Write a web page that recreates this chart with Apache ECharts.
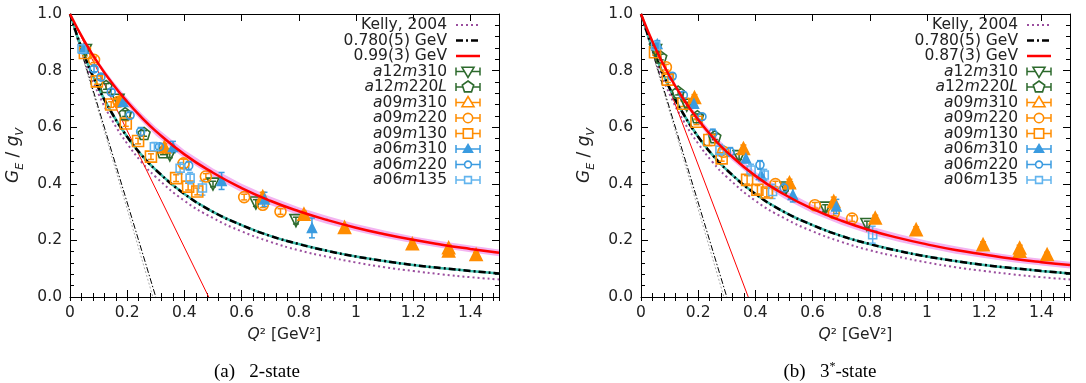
<!DOCTYPE html>
<html><head><meta charset="utf-8">
<script src="https://cdn.jsdelivr.net/npm/echarts@6/dist/echarts.min.js"></script>
<style>html,body{margin:0;padding:0;background:#fff}#c{width:1086px;height:383px}</style>
</head><body><div id="c"></div>
<script>
// ---------------- DATA ----------------
const curveQ2 = [0,0.05,0.1,0.15,0.2,0.25,0.3,0.4,0.5,0.6,0.7,0.8,0.9,1.0,1.1,1.2,1.3,1.4,1.5];
const kelly2004 = [1,0.840,0.717,0.620,0.542,0.477,0.424,0.340,0.279,0.232,0.195,0.165,0.142,0.122,0.105,0.092,0.080,0.070,0.062];
const dipole780 = [1,0.854,0.738,0.644,0.566,0.502,0.449,0.364,0.301,0.254,0.216,0.187,0.163,0.143,0.127,0.113,0.102,0.092,0.083];
const dipole990 = [1,0.905,0.823,0.752,0.690,0.635,0.586,0.504,0.439,0.385,0.340,0.303,0.272,0.245,0.222,0.202,0.185,0.170,0.156];
const dipole870 = [1,0.880,0.780,0.697,0.626,0.565,0.513,0.428,0.363,0.311,0.270,0.236,0.209,0.186,0.166,0.150,0.135,0.123,0.113];
const band990Half = [0,0.004,0.008,0.011,0.013,0.014,0.015,0.015,0.015,0.015,0.015,0.014,0.014,0.013,0.013,0.012,0.012,0.012,0.012];
const band870Half = [0,0.004,0.008,0.011,0.013,0.014,0.015,0.015,0.015,0.015,0.015,0.014,0.014,0.013,0.013,0.012,0.012,0.012,0.012];
// Q2 where the small-Q2 slope lines reach zero
const slopeZero780 = 0.300;
const slopeZero990 = 0.485;
const slopeZero870 = 0.375;
const slopeZeroKelly = 0.290;

const curveLabels = ['Kelly, 2004', '0.780(5) GeV'];
const fitLabels = ['0.99(3) GeV', '0.87(3) GeV'];
const xTickLabels = ['0','0.2','0.4','0.6','0.8','1','1.2','1.4'];
const yTickLabels = ['0.0','0.2','0.4','0.6','0.8','1.0'];
const ensembleNames = ['a12m310','a12m220L','a09m310','a09m220','a09m130','a06m310','a06m220','a06m135'];

// [Q2, G_E/g_V, error]  --- panel (a) 2-state
const A_a12m310 = [[0.054,0.871,0.01],[0.168,0.695,0.01],[0.349,0.502,0.01],[0.50,0.399,0.01],[0.65,0.332,0.012],[0.79,0.270,0.012]];
const A_a12m220L = [[0.126,0.744,0.01],[0.193,0.648,0.01],[0.259,0.578,0.01],[0.325,0.513,0.01]];
const A_a09m310 = [[0.175,0.695,0.01],[0.33,0.530,0.012],[0.674,0.355,0.015],[0.818,0.293,0.01],[0.960,0.246,0.01],[1.197,0.188,0.01],[1.324,0.174,0.01],[1.324,0.163,0.01],[1.42,0.150,0.008]];
const A_a09m220 = [[0.084,0.838,0.01],[0.17,0.690,0.01],[0.397,0.472,0.015],[0.475,0.426,0.01],[0.609,0.353,0.01],[0.674,0.326,0.01],[0.736,0.302,0.01]];
const A_a09m130 = [[0.052,0.862,0.01],[0.094,0.762,0.01],[0.144,0.680,0.01],[0.195,0.613,0.01],[0.238,0.551,0.01],[0.283,0.496,0.01],[0.371,0.420,0.012],[0.413,0.390,0.012],[0.445,0.373,0.012]];
const A_a06m310 = [[0.048,0.877,0.01],[0.186,0.689,0.01],[0.36,0.530,0.02],[0.53,0.410,0.03],[0.68,0.345,0.025],[0.846,0.244,0.035]];
const A_a06m220 = [[0.084,0.806,0.01],[0.108,0.777,0.01],[0.144,0.724,0.01],[0.21,0.642,0.01],[0.247,0.584,0.015],[0.313,0.531,0.01],[0.415,0.464,0.015]];
const A_a06m135 = [[0.042,0.877,0.01],[0.295,0.531,0.015],[0.385,0.455,0.02],[0.42,0.420,0.02],[0.463,0.385,0.025]];
// panel (b) 3*-state
const B_a12m310 = [[0.051,0.871,0.01],[0.16,0.678,0.01],[0.343,0.496,0.01],[0.507,0.385,0.01],[0.644,0.314,0.012],[0.79,0.256,0.012]];
const B_a12m220L = [[0.069,0.848,0.01],[0.13,0.724,0.01],[0.197,0.637,0.01],[0.258,0.566,0.01]];
const B_a09m310 = [[0.187,0.705,0.01],[0.358,0.525,0.012],[0.519,0.404,0.012],[0.674,0.338,0.015],[0.819,0.279,0.01],[0.962,0.238,0.01],[1.196,0.185,0.01],[1.324,0.173,0.01],[1.324,0.162,0.01],[1.42,0.150,0.008]];
const B_a09m220 = [[0.087,0.812,0.01],[0.288,0.513,0.01],[0.470,0.399,0.01],[0.608,0.324,0.01],[0.674,0.297,0.01],[0.738,0.277,0.01]];
const B_a09m130 = [[0.049,0.865,0.01],[0.094,0.768,0.01],[0.148,0.683,0.01],[0.194,0.619,0.01],[0.239,0.555,0.02],[0.282,0.490,0.01],[0.371,0.414,0.015],[0.407,0.379,0.015],[0.44,0.369,0.015]];
const B_a06m310 = [[0.057,0.894,0.012],[0.185,0.683,0.012],[0.367,0.490,0.015],[0.42,0.431,0.02],[0.531,0.361,0.025],[0.683,0.320,0.025]];
const B_a06m220 = [[0.109,0.780,0.01],[0.148,0.713,0.01],[0.213,0.637,0.01],[0.251,0.578,0.015],[0.312,0.513,0.015],[0.416,0.467,0.015],[0.50,0.385,0.015]];
const B_a06m135 = [[0.051,0.888,0.015],[0.276,0.519,0.02],[0.385,0.449,0.02],[0.431,0.431,0.02],[0.46,0.373,0.025],[0.81,0.220,0.03]];

// ---------------- STYLE ----------------
const FONT = '"DejaVu Sans", sans-serif';
const SERIF = '"Liberation Serif", "DejaVu Serif", serif';
const TXT = '#222';
const FS = 15.5;
const GREEN = '#2d6a2d', ORANGE = '#ff8c00', BLUE = '#3a9be0', LBLUE = '#62b4ee';
const PURPLE = '#9b4f9f', RED = '#ff0000', TEAL = '#3fbfae', PINK = '#f3b4f1';
const PENT = 'path://M0,-1L0.951,-0.309L0.588,0.809L-0.588,0.809L-0.951,-0.309Z';
const ensStyle = [
  {color: GREEN, symbol: 'triangle', rotate: 180, size: 12, fill: 'rgba(0,0,0,0)'},
  {color: GREEN, symbol: PENT, rotate: 0, size: 12, fill: 'rgba(0,0,0,0)'},
  {color: ORANGE, symbol: 'triangle', rotate: 0, size: 12, fill: ORANGE},
  {color: ORANGE, symbol: 'circle', rotate: 0, size: 11, fill: 'rgba(0,0,0,0)'},
  {color: ORANGE, symbol: 'rect', rotate: 0, size: 11, fill: 'rgba(0,0,0,0)'},
  {color: BLUE, symbol: 'triangle', rotate: 0, size: 9, fill: BLUE},
  {color: BLUE, symbol: 'circle', rotate: 0, size: 8, fill: 'rgba(0,0,0,0)'},
  {color: LBLUE, symbol: 'rect', rotate: 0, size: 8, fill: 'rgba(0,0,0,0)'}
];
const panelData = [
  [A_a12m310, A_a12m220L, A_a09m310, A_a09m220, A_a09m130, A_a06m310, A_a06m220, A_a06m135],
  [B_a12m310, B_a12m220L, B_a09m310, B_a09m220, B_a09m130, B_a06m310, B_a06m220, B_a06m135]
];
const panelFit = [dipole990, dipole870];
const panelBand = [band990Half, band870Half];
const panelSlope = [slopeZero990, slopeZero870];
const gridLeft = [70, 641];
const GTOP = 14, GW = 429, GH = 283;

const richTxt = s => s.replace(/([A-Za-z]+)|([0-9]+)/g, (m, a, d) => a ? '{i|' + a + '}' : '{n|' + d + '}');

const xAxis = [], yAxis = [], grid = [], series = [], graphic = [];
const xLab = v => { const s = String(+v.toFixed(2)); return xTickLabels.indexOf(s) >= 0 ? s : ''; };
const yLab = v => { const s = v.toFixed(1); return yTickLabels.indexOf(s) >= 0 ? s : ''; };

for (let p = 0; p < 2; p++) {
  grid.push({left: gridLeft[p], top: GTOP, width: GW, height: GH});
  const line = {show: true, onZero: false, lineStyle: {color: '#000', width: 1}};
  const base = {type: 'value', gridIndex: p, min: 0, max: 1.5, splitLine: {show: false}};
  xAxis.push(Object.assign({}, base, {position: 'bottom', interval: 0.2, axisLine: line,
    axisTick: {inside: true, length: 7, lineStyle: {color: '#000'}},
    axisLabel: {color: TXT, fontSize: FS, fontFamily: FONT, margin: 8, formatter: xLab, showMaxLabel: false},
    name: '{i|Q}{n|² [GeV²]}', nameLocation: 'middle', nameGap: 30,
    nameTextStyle: {rich: {i: {fontStyle: 'italic', fontSize: FS, fontFamily: FONT, color: TXT}, n: {fontSize: FS, fontFamily: FONT, color: TXT}}}}));
  xAxis.push(Object.assign({}, base, {position: 'bottom', interval: 0.04, axisLine: {show: false},
    axisTick: {inside: true, length: 4, lineStyle: {color: '#000'}}, axisLabel: {show: false}}));
  xAxis.push(Object.assign({}, base, {position: 'top', interval: 0.2, axisLine: line,
    axisTick: {inside: true, length: 7, lineStyle: {color: '#000'}}, axisLabel: {show: false}}));
  xAxis.push(Object.assign({}, base, {position: 'top', interval: 0.04, axisLine: {show: false},
    axisTick: {inside: true, length: 4, lineStyle: {color: '#000'}}, axisLabel: {show: false}}));
  const ybase = {type: 'value', gridIndex: p, min: 0, max: 1, interval: 0.2, splitLine: {show: false}, axisLine: line,
    axisTick: {inside: true, length: 7, lineStyle: {color: '#000'}},
    minorTick: {show: true, splitNumber: 5, length: 4, lineStyle: {color: '#000'}}};
  yAxis.push(Object.assign({}, ybase, {position: 'left',
    axisLabel: {color: TXT, fontSize: FS, fontFamily: FONT, margin: 8, formatter: yLab},
    name: '{g|G}{s|E}{n| / }{g|g}{s|V}', nameLocation: 'middle', nameGap: 44, nameRotate: 90,
    nameTextStyle: {rich: {
      g: {fontStyle: 'italic', fontSize: 17, fontFamily: FONT, color: TXT, lineHeight: 24},
      s: {fontStyle: 'italic', fontSize: 11, fontFamily: FONT, color: TXT, verticalAlign: 'bottom', lineHeight: 12},
      n: {fontSize: 17, fontFamily: FONT, color: TXT, lineHeight: 24}}}}));
  yAxis.push(Object.assign({}, ybase, {position: 'right', axisLabel: {show: false}}));

  const xi = p * 4, yi = p * 2;
  const pts = arr => curveQ2.map((q, i) => [q, arr[i]]);
  const fit = panelFit[p], half = panelBand[p];
  const SM = 0.5;
  // pink error band of the fit
  series.push({type: 'custom', xAxisIndex: xi, yAxisIndex: yi, z: 1, silent: true, data: [[0, 1]],
    renderItem: (params, api) => {
      const up = curveQ2.map((q, i) => api.coord([q, fit[i] + half[i]]));
      const lo = curveQ2.map((q, i) => api.coord([q, fit[i] - half[i]])).reverse();
      return {type: 'polygon', shape: {points: up.concat(lo)}, style: {fill: PINK}};
    }});
  // Kelly
  series.push({type: 'line', xAxisIndex: xi, yAxisIndex: yi, z: 2, data: pts(kelly2004), smooth: SM,
    showSymbol: false, symbol: 'none', lineStyle: {color: PURPLE, width: 2, type: [2, 3]}});
  // thin slope lines
  series.push({type: 'line', xAxisIndex: xi, yAxisIndex: yi, z: 2, data: [[0, 1], [slopeZeroKelly, 0]], symbol: 'none',
    lineStyle: {color: '#aaaaaa', width: 1, type: [2, 2]}});
  series.push({type: 'line', xAxisIndex: xi, yAxisIndex: yi, z: 3, data: [[0, 1], [slopeZero780, 0]], symbol: 'none',
    lineStyle: {color: '#000', width: 1, type: [6, 2, 1.5, 2]}});
  series.push({type: 'line', xAxisIndex: xi, yAxisIndex: yi, z: 3, data: [[0, 1], [panelSlope[p], 0]], symbol: 'none',
    lineStyle: {color: RED, width: 1}});
  // 0.780 dipole (teal band + black dash-dot)
  series.push({type: 'line', xAxisIndex: xi, yAxisIndex: yi, z: 3, data: pts(dipole780), smooth: SM,
    symbol: 'none', lineStyle: {color: TEAL, width: 2.5}});
  series.push({type: 'line', xAxisIndex: xi, yAxisIndex: yi, z: 4, data: pts(dipole780), smooth: SM,
    symbol: 'none', lineStyle: {color: '#000', width: 2.5, type: [7, 3, 2, 3]}});
  // data
  panelData[p].forEach((arr, k) => {
    const st = ensStyle[k];
    series.push({type: 'custom', xAxisIndex: xi, yAxisIndex: yi, z: 5, silent: true, data: arr,
      renderItem: (params, api) => {
        const x = api.value(0), y = api.value(1), e = api.value(2);
        const t = api.coord([x, y + e]), b = api.coord([x, y - e]);
        const ls = {stroke: st.color, lineWidth: 1.5};
        return {type: 'group', children: [
          {type: 'line', shape: {x1: t[0], y1: t[1], x2: b[0], y2: b[1]}, style: ls},
          {type: 'line', shape: {x1: t[0] - 3, y1: t[1], x2: t[0] + 3, y2: t[1]}, style: ls},
          {type: 'line', shape: {x1: b[0] - 3, y1: b[1], x2: b[0] + 3, y2: b[1]}, style: ls}]};
      }});
    series.push({type: 'scatter', xAxisIndex: xi, yAxisIndex: yi, z: 6, silent: true,
      data: arr.map(d => [d[0], d[1]]), symbol: st.symbol, symbolSize: st.size, symbolRotate: st.rotate,
      itemStyle: {color: st.fill, borderColor: st.color, borderWidth: 1.6, opacity: 1}});
  });
  // fit curve
  series.push({type: 'line', xAxisIndex: xi, yAxisIndex: yi, z: 7, data: pts(fit), smooth: SM,
    symbol: 'none', lineStyle: {color: RED, width: 2.5}});

  // ---- legend (graphic) ----
  const tx = gridLeft[p] + 377, sx1 = tx + 9, sx2 = tx + 33, sc = (sx1 + sx2) / 2;
  const rowY = i => 25 + 15.5 * i;
  const labels = [curveLabels[0], curveLabels[1], fitLabels[p]].concat(ensembleNames);
  labels.forEach((lab, i) => {
    const isEns = i >= 3;
    graphic.push({type: 'text', x: tx, y: rowY(i), z: 100, style: {
      text: isEns ? richTxt(lab) : lab, align: 'right', verticalAlign: 'middle',
      font: FS + 'px ' + FONT, fill: TXT,
      rich: {i: {fontStyle: 'italic', fontSize: FS, fontFamily: FONT, fill: TXT}, n: {fontSize: FS, fontFamily: FONT, fill: TXT}}}});
  });
  const y0 = rowY(0), y1 = rowY(1), y2 = rowY(2);
  graphic.push({type: 'line', z: 100, shape: {x1: sx1, y1: y0, x2: sx2, y2: y0}, style: {stroke: PURPLE, lineWidth: 2, lineDash: [2, 3]}});
  graphic.push({type: 'line', z: 100, shape: {x1: sx1, y1: y1, x2: sx2, y2: y1}, style: {stroke: '#000', lineWidth: 2.5, lineDash: [7, 3, 2, 3]}});
  graphic.push({type: 'line', z: 100, shape: {x1: sx1, y1: y2, x2: sx2, y2: y2}, style: {stroke: RED, lineWidth: 2.5}});
  ensStyle.forEach((st, k) => {
    const y = rowY(k + 3), ls = {stroke: st.color, lineWidth: 1.5};
    graphic.push({type: 'line', z: 100, shape: {x1: sx1, y1: y, x2: sx2, y2: y}, style: ls});
    graphic.push({type: 'line', z: 100, shape: {x1: sx1, y1: y - 4, x2: sx1, y2: y + 4}, style: ls});
    graphic.push({type: 'line', z: 100, shape: {x1: sx2, y1: y - 4, x2: sx2, y2: y + 4}, style: ls});
    const r = st.size / 2, fill = (k === 5) ? st.color : '#fff', ms = {stroke: st.color, lineWidth: 1.6, fill: fill};
    let shp;
    if (k === 0) shp = {type: 'polygon', shape: {points: [[sc - r, y - r * 0.7], [sc + r, y - r * 0.7], [sc, y + r]]}};
    else if (k === 1) shp = {type: 'polygon', shape: {points: [[sc, y - r], [sc + 0.951 * r, y - 0.309 * r], [sc + 0.588 * r, y + 0.809 * r], [sc - 0.588 * r, y + 0.809 * r], [sc - 0.951 * r, y - 0.309 * r]]}};
    else if (k === 2 || k === 5) shp = {type: 'polygon', shape: {points: [[sc, y - r], [sc + r, y + r * 0.7], [sc - r, y + r * 0.7]]}};
    else if (k === 3 || k === 6) shp = {type: 'circle', shape: {cx: sc, cy: y, r: r * 0.85}};
    else shp = {type: 'rect', shape: {x: sc - r * 0.85, y: y - r * 0.85, width: r * 1.7, height: r * 1.7}};
    shp.z = 101; shp.style = ms;
    graphic.push(shp);
  });
  // caption
  const capRich = p === 0 ? '{n|(a)\u2002 2-state}' : '{n|(b)\u2002 3}{s|*}{n|-state}';
  graphic.push({type: 'text', x: p === 0 ? 257 : 830, y: 372, style: {text: capRich, align: 'center', verticalAlign: 'middle',
    font: '19px ' + SERIF, fill: '#000',
    rich: {n: {fontSize: 19, fontFamily: SERIF, fill: '#000', lineHeight: 22}, s: {fontSize: 12, fontFamily: SERIF, fill: '#000', verticalAlign: 'top', lineHeight: 22}}}});
}

const chart = echarts.init(document.getElementById('c'));
chart.setOption({animation: false, grid, xAxis, yAxis, series, graphic});
</script></body></html>
